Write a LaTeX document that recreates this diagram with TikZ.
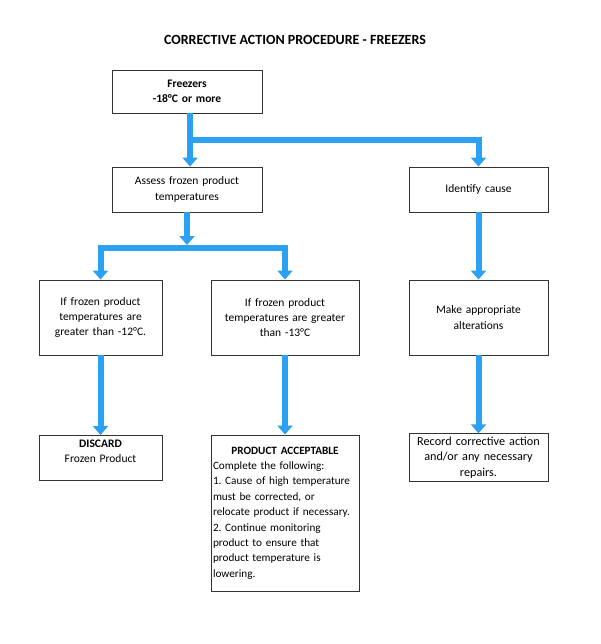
\documentclass[tikz,border=0pt]{standalone}
\usepackage{fontspec}
\setmainfont{Carlito}
\usetikzlibrary{arrows.meta,%
                positioning}
\definecolor{flowblue}{RGB}{44,160,242}
\hyphenpenalty=10000
\exhyphenpenalty=10000
\frenchspacing

\begin{document}
\begin{tikzpicture}[x=1pt,y=-1pt]
\tikzstyle{box}=[draw=black!80,line width=0.9pt,align=center,inner sep=3pt,font=\fontsize{11.5}{15.4}\selectfont]
\tikzstyle{flow} = [draw=flowblue,line width=6pt,-{Triangle[width=15pt,length=9pt]}]

\useasboundingbox (0,0) rectangle (600,644);

\draw (295,40) node[font=\bfseries\fontsize{14}{16}\selectfont] (title) {CORRECTIVE ACTION PROCEDURE - FREEZERS};

\draw (187,91.5) node[box,text width=144pt,minimum height=43pt] (fz) {\textbf{Freezers}\\\textbf{-18°C or more}};
\draw (187,189.5) node[box,text width=144pt,minimum height=45pt] (as) {Assess frozen product\\temperatures};
\draw (478.5,189.5) node[box,text width=133pt,minimum height=45pt] (id) {Identify cause};
\draw (100.5,317.5) node[box,text width=117pt,minimum height=75pt] (gt12) {If frozen product\\temperatures are\\greater than -12°C.};
\draw (285,317.5) node[box,text width=142pt,minimum height=75pt] (gt13) {If frozen product\\temperatures are greater\\than -13°C};
\draw (478.5,317.5) node[box,text width=133pt,minimum height=75pt] (alt) {Make appropriate\\alterations};
\draw (100.5,435) node[box,anchor=north,text width=117pt,text height=9pt,text depth=30pt] (dis) {\textbf{DISCARD}\\Frozen Product};
\draw (285,513) node[box,align=left,inner xsep=2pt,text width=144pt,minimum height=156pt,font=\fontsize{11.2}{15.4}\selectfont] (ok) {\hfill\textbf{PRODUCT ACCEPTABLE}\hfill\null\\Complete the following:\\1. Cause of high temperature\\must be corrected, or\\relocate product if necessary.\\2. Continue monitoring\\product to ensure that\\product temperature is\\lowering.};
\draw (478.5,457.5) node[box,inner xsep=2pt,text width=135pt,minimum height=45pt,font=\fontsize{12.2}{15.5}\selectfont] (rec) {Record corrective action\\and/or any necessary\\repairs.};

\coordinate (j1) at (190,140);
\coordinate (j2) at (187,248);

\path[flow] ([xshift=3pt]fz.south) -- ([xshift=3pt]as.north);
\path[flow] (j1) -| (id.north);
\path[flow,shorten >=3pt] (as.south) -- (j2);
\path[flow] (j2) -| (gt12.north);
\path[flow] (j2) -| (gt13.north);
\path[flow] (id.south) -- (alt.north);
\path[flow] (gt12.south) -- (dis.north);
\path[flow] (gt13.south) -- (ok.north);
\path[flow] (alt.south) -- (rec.north);
\end{tikzpicture}
\end{document}
